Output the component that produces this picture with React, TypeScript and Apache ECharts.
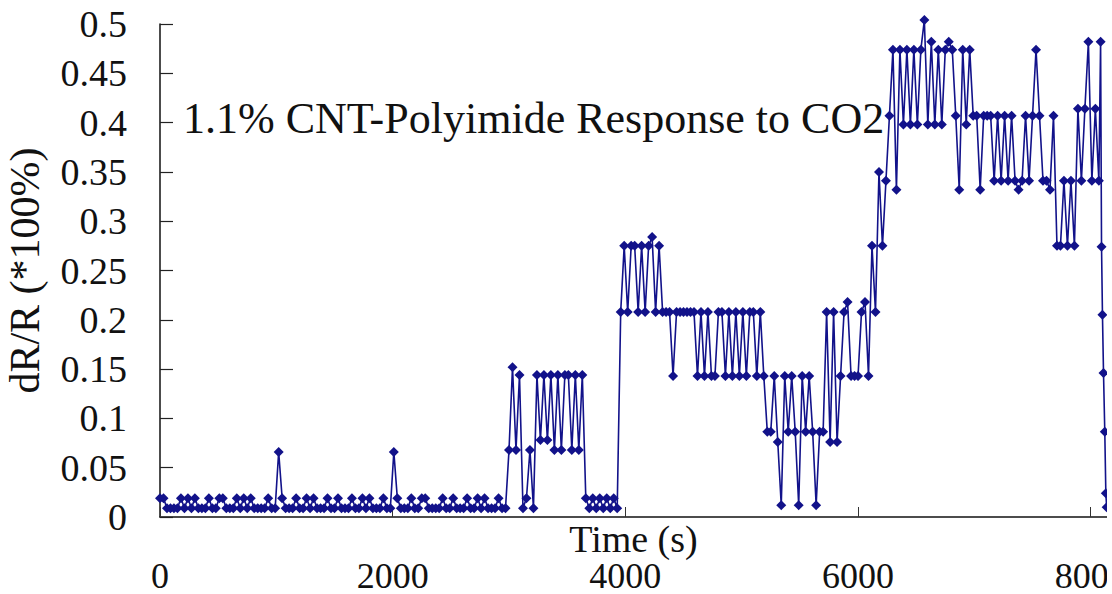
import React, { useEffect, useRef } from "react";
import * as echarts from "echarts";

// Sampling step of the logged response (seconds per sample)
const SAMPLE_STEP = 30;

// dR/R readings, 0 – 3000 s (baseline with two isolated spikes)
const baselineValues = [
  0.019, 0.019, 0.009, 0.009, 0.009, 0.009, 0.019, 0.009, 0.019, 0.009,
  0.019, 0.009, 0.009, 0.009, 0.019, 0.009, 0.009, 0.019, 0.019, 0.009,
  0.009, 0.009, 0.019, 0.009, 0.019, 0.009, 0.019, 0.009, 0.009, 0.009,
  0.009, 0.019, 0.009, 0.009, 0.066, 0.019, 0.009, 0.009, 0.009, 0.019,
  0.009, 0.009, 0.019, 0.009, 0.019, 0.009, 0.009, 0.009, 0.019, 0.009,
  0.009, 0.019, 0.009, 0.009, 0.009, 0.019, 0.009, 0.009, 0.019, 0.009,
  0.019, 0.009, 0.009, 0.009, 0.019, 0.009, 0.009, 0.066, 0.019, 0.009,
  0.009, 0.009, 0.019, 0.009, 0.009, 0.019, 0.019, 0.009, 0.009, 0.009,
  0.009, 0.019, 0.009, 0.009, 0.019, 0.009, 0.009, 0.009, 0.019, 0.009,
  0.009, 0.019, 0.009, 0.019, 0.009, 0.009, 0.009, 0.019, 0.009, 0.009,
];

// 3000 – 3930 s (first CO2 step, then back to baseline)
const step1Values = [
  0.068, 0.152, 0.068, 0.144, 0.009, 0.019, 0.068, 0.009, 0.144, 0.078,
  0.144, 0.078, 0.144, 0.068, 0.144, 0.068, 0.144, 0.144, 0.068, 0.144,
  0.068, 0.144, 0.019, 0.009, 0.019, 0.009, 0.019, 0.009, 0.019, 0.009,
  0.019, 0.009,
];

// 3960 – 5250 s
const step2Values = [
  0.208, 0.275, 0.208, 0.275, 0.275, 0.208, 0.275, 0.208, 0.275, 0.284,
  0.208, 0.275, 0.208, 0.208, 0.208, 0.143, 0.208, 0.208, 0.208, 0.208,
  0.208, 0.208, 0.143, 0.208, 0.143, 0.208, 0.143, 0.143, 0.208, 0.208,
  0.143, 0.208, 0.143, 0.208, 0.143, 0.208, 0.143, 0.208, 0.208, 0.143,
  0.208, 0.143, 0.0865, 0.0865,
];

// 5280 – 6270 s
const step3Values = [
  0.143, 0.076, 0.012, 0.143, 0.0865, 0.143, 0.0865, 0.012, 0.143, 0.0865,
  0.143, 0.0865, 0.012, 0.0865, 0.0865, 0.208, 0.076, 0.208, 0.076, 0.143,
  0.208, 0.218, 0.143, 0.143, 0.143, 0.208, 0.218, 0.143, 0.275, 0.208,
  0.35, 0.275, 0.341, 0.407,
];

// 6300 – 8070 s
const step4Values = [
  0.474, 0.332, 0.474, 0.398, 0.474, 0.398, 0.474, 0.398, 0.474, 0.504,
  0.398, 0.482, 0.398, 0.474, 0.398, 0.474, 0.482, 0.474, 0.407, 0.332,
  0.474, 0.398, 0.474, 0.407, 0.407, 0.332, 0.407, 0.407, 0.407, 0.341,
  0.407, 0.341, 0.407, 0.341, 0.407, 0.341, 0.332, 0.341, 0.407, 0.341,
  0.407, 0.474, 0.407, 0.341, 0.341, 0.332, 0.407, 0.275, 0.275, 0.341,
  0.275, 0.341, 0.275, 0.414, 0.341, 0.414, 0.482, 0.341, 0.414, 0.341,
];

// Final fast recovery at the end of the log
const tailTimes = [8085, 8093, 8101, 8110, 8121, 8130, 8137];
const tailValues = [0.482, 0.274, 0.205, 0.146, 0.0865, 0.024, 0.01];

const xTickValues = [0, 2000, 4000, 6000, 8000];

const TITLE = "1.1% CNT-Polyimide Response to CO2";
const FONT = "'Liberation Serif', 'Times New Roman', serif";

export default function App() {
  const ref = useRef<HTMLDivElement>(null);

  useEffect(() => {
    if (!ref.current) return;
    const chart = echarts.init(ref.current, null, { renderer: "svg" });

    const mainValues = [
      ...baselineValues,
      ...step1Values,
      ...step2Values,
      ...step3Values,
      ...step4Values,
    ];
    const data: [number, number][] = mainValues.map(
      (v, i) => [i * SAMPLE_STEP, v] as [number, number]
    );
    tailTimes.forEach((t, k) => data.push([t, tailValues[k]]));

    chart.setOption({
      animation: false,
      backgroundColor: "#ffffff",
      title: {
        text: TITLE,
        left: 183,
        top: 96,
        padding: 0,
        textStyle: {
          fontFamily: FONT,
          fontSize: 44,
          fontWeight: "normal",
          color: "#111111",
        },
      },
      grid: {
        left: 160,
        right: 0,
        top: 24,
        bottom: 77,
        containLabel: false,
        outerBoundsMode: "none",
      },
      xAxis: {
        type: "value",
        min: 0,
        max: 8140,
        name: "Time (s)",
        nameLocation: "middle",
        nameGap: 22,
        nameMoveOverlap: false,
        nameTextStyle: {
          fontFamily: FONT,
          fontSize: 38,
          lineHeight: 30,
          color: "#111111",
          verticalAlign: "middle",
        },
        axisLine: { show: true, lineStyle: { color: "#111111", width: 1.5 } },
        axisTick: {
          show: true,
          inside: true,
          length: 10,
          customValues: xTickValues,
          lineStyle: { color: "#333333", width: 1 },
        },
        axisLabel: {
          customValues: xTickValues,
          fontFamily: FONT,
          fontSize: 36,
          lineHeight: 24,
          color: "#111111",
          margin: 47,
          formatter: (v: number) => String(Math.round(v)),
        },
        splitLine: { show: false },
      },
      yAxis: {
        type: "value",
        min: 0,
        max: 0.5,
        interval: 0.05,
        name: "dR/R (*100%)",
        nameLocation: "middle",
        nameGap: 135,
        nameMoveOverlap: false,
        nameTextStyle: {
          fontFamily: FONT,
          fontSize: 42,
          color: "#111111",
          verticalAlign: "middle",
        },
        axisLine: { show: true, lineStyle: { color: "#111111", width: 1.5 } },
        axisTick: {
          show: true,
          inside: true,
          length: 13,
          lineStyle: { color: "#222222", width: 1.2 },
        },
        axisLabel: {
          fontFamily: FONT,
          fontSize: 38,
          color: "#111111",
          margin: 33,
          formatter: (v: number) => String(parseFloat(v.toFixed(2))),
        },
        splitLine: { show: false },
      },
      series: [
        {
          type: "line",
          data,
          clip: false,
          symbol: "diamond",
          symbolSize: 10,
          showSymbol: true,
          lineStyle: { color: "#12128a", width: 1.6 },
          itemStyle: { color: "#12128a" },
        },
      ],
    });

    return () => chart.dispose();
  }, []);

  return (
    <div
      ref={ref}
      style={{
        position: "fixed",
        left: 0,
        top: 0,
        width: 1107,
        height: 594,
        background: "#ffffff",
      }}
    />
  );
}
